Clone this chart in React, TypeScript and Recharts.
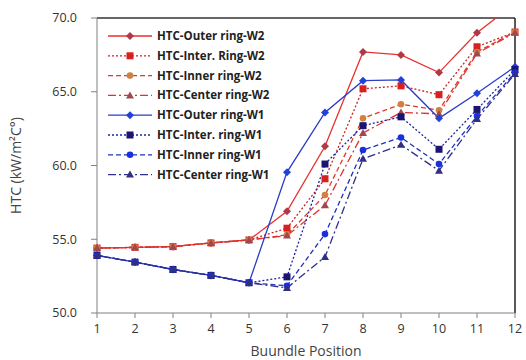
import React from "react";
import { LineChart, Line, XAxis, YAxis, Legend, ReferenceLine, Label } from "recharts";

const positions = [1, 2, 3, 4, 5, 6, 7, 8, 9, 10, 11, 12];
const yTicks = [50, 55, 60, 65, 70];

const outerW2 = [54.4, 54.45, 54.5, 54.75, 54.95, 56.9, 61.3, 67.7, 67.5, 66.3, 69.0, 71.0];
const interW2 = [54.4, 54.45, 54.5, 54.75, 54.95, 55.75, 59.1, 65.2, 65.4, 64.8, 68.05, 69.05];
const innerW2 = [54.4, 54.45, 54.5, 54.75, 54.95, 55.3, 58.0, 63.2, 64.15, 63.75, 67.7, 69.05];
const centerW2 = [54.4, 54.45, 54.5, 54.75, 54.95, 55.25, 57.3, 62.2, 63.6, 63.5, 67.6, 69.0];
const outerW1 = [53.9, 53.45, 52.95, 52.55, 52.05, 59.55, 63.6, 65.75, 65.8, 63.2, 64.9, 66.7];
const interW1 = [53.9, 53.45, 52.95, 52.55, 52.05, 52.45, 60.1, 62.7, 63.3, 61.1, 63.8, 66.5];
const innerW1 = [53.9, 53.45, 52.95, 52.55, 52.05, 51.85, 55.35, 61.05, 61.9, 60.1, 63.35, 66.3];
const centerW1 = [53.9, 53.45, 52.95, 52.55, 52.05, 51.7, 53.8, 60.45, 61.4, 59.65, 63.15, 66.2];

const seriesNames = [
  "HTC-Outer ring-W2",
  "HTC-Inter. Ring-W2",
  "HTC-Inner ring-W2",
  "HTC-Center ring-W2",
  "HTC-Outer ring-W1",
  "HTC-Inter. ring-W1",
  "HTC-Inner ring-W1",
  "HTC-Center ring-W1",
];
const seriesValues = [outerW2, interW2, innerW2, centerW2, outerW1, interW1, innerW1, centerW1];

type Shape = "diamond" | "square" | "circle" | "triangle";
const styles: { stroke: string; fill: string; dash?: string; shape: Shape }[] = [
  { stroke: "#e8302f", fill: "#b03848", shape: "diamond" },
  { stroke: "#c82424", fill: "#d82020", dash: "2 2", shape: "square" },
  { stroke: "#e03a24", fill: "#d08040", dash: "5 3", shape: "circle" },
  { stroke: "#e03030", fill: "#a04850", dash: "8 3 2 3", shape: "triangle" },
  { stroke: "#2a3cc8", fill: "#2040e0", shape: "diamond" },
  { stroke: "#2020a0", fill: "#1c1470", dash: "2 2", shape: "square" },
  { stroke: "#2030c0", fill: "#1a30e0", dash: "5 3", shape: "circle" },
  { stroke: "#303090", fill: "#303080", dash: "8 3 2 3", shape: "triangle" },
];

const data = positions.map((p, i) => {
  const row: Record<string, number> = { pos: p };
  seriesValues.forEach((s, k) => {
    row["s" + k] = s[i];
  });
  return row;
});

function Marker({ cx, cy, shape, fill }: { cx: number; cy: number; shape: Shape; fill: string }) {
  if (cx == null || cy == null || isNaN(cx) || isNaN(cy)) return null;
  if (shape === "diamond")
    return <polygon points={`${cx},${cy - 4} ${cx + 4},${cy} ${cx},${cy + 4} ${cx - 4},${cy}`} fill={fill} />;
  if (shape === "square") return <rect x={cx - 3.5} y={cy - 3.5} width={7} height={7} fill={fill} />;
  if (shape === "circle") return <circle cx={cx} cy={cy} r={3.3} fill={fill} />;
  return <polygon points={`${cx},${cy - 4} ${cx + 4},${cy + 3} ${cx - 4},${cy + 3}`} fill={fill} />;
}

const LegendContent = () => (
  <svg width={180} height={165} style={{ display: "block" }}>
    {seriesNames.map((n, i) => {
      const st = styles[i];
      const y = 8 + i * 19.8;
      return (
        <g key={n}>
          <line x1={8} x2={52} y1={y} y2={y} stroke={st.stroke} strokeWidth={1.3} strokeDasharray={st.dash} />
          <Marker cx={30} cy={y} shape={st.shape} fill={st.fill} />
          <text x={57} y={y + 4} fontSize={11.5} fontWeight="bold" fill="#222" fontFamily="Open Sans, sans-serif">
            {n}
          </text>
        </g>
      );
    })}
  </svg>
);

export default function App() {
  return (
    <div style={{ position: "absolute", left: 0, top: 0, width: 526, height: 360, background: "#fff" }}>
      <LineChart
        width={526}
        height={360}
        data={data}
        margin={{ top: 18, right: 11, bottom: 17, left: 0 }}
        style={{ fontFamily: "Open Sans, sans-serif" }}
      >
        <XAxis
          dataKey="pos"
          type="number"
          domain={[1, 12]}
          ticks={positions}
          height={30}
          stroke="#808080"
          tickSize={5}
          tickMargin={6}
          tick={{ fill: "#333", fontSize: 12.5 }}
        >
          <Label value="Buundle Position" position="insideBottom" offset={-13} fill="#444" fontSize={14} />
        </XAxis>
        <YAxis
          type="number"
          domain={[50, 70]}
          ticks={yTicks}
          allowDataOverflow
          width={97}
          stroke="#808080"
          tickSize={6}
          tickMargin={14}
          tickFormatter={(v: number) => v.toFixed(1)}
          tick={{ fill: "#333", fontSize: 12.5 }}
        >
          <Label
            value="HTC (kW/m²C°)"
            angle={-90}
            position="insideLeft"
            offset={16}
            fill="#444"
            fontSize={14}
            style={{ textAnchor: "middle" }}
          />
        </YAxis>
        <ReferenceLine y={70} stroke="#333" strokeWidth={1.3} />
        <ReferenceLine x={12} stroke="#222" strokeWidth={1.5} />
        <Legend
          content={<LegendContent />}
          layout="vertical"
          verticalAlign="middle"
          align="center"
          wrapperStyle={{ position: "absolute", left: 100, top: 28, width: 180, height: 165 }}
        />
        {seriesNames.map((n, i) => {
          const st = styles[i];
          return (
            <Line
              key={n}
              name={n}
              dataKey={"s" + i}
              stroke={st.stroke}
              strokeWidth={1.3}
              strokeDasharray={st.dash}
              isAnimationActive={false}
              legendType="none"
              dot={(p: any) => <Marker key={p.key ?? p.index} cx={p.cx} cy={p.cy} shape={st.shape} fill={st.fill} />}
            />
          );
        })}
      </LineChart>
    </div>
  );
}
